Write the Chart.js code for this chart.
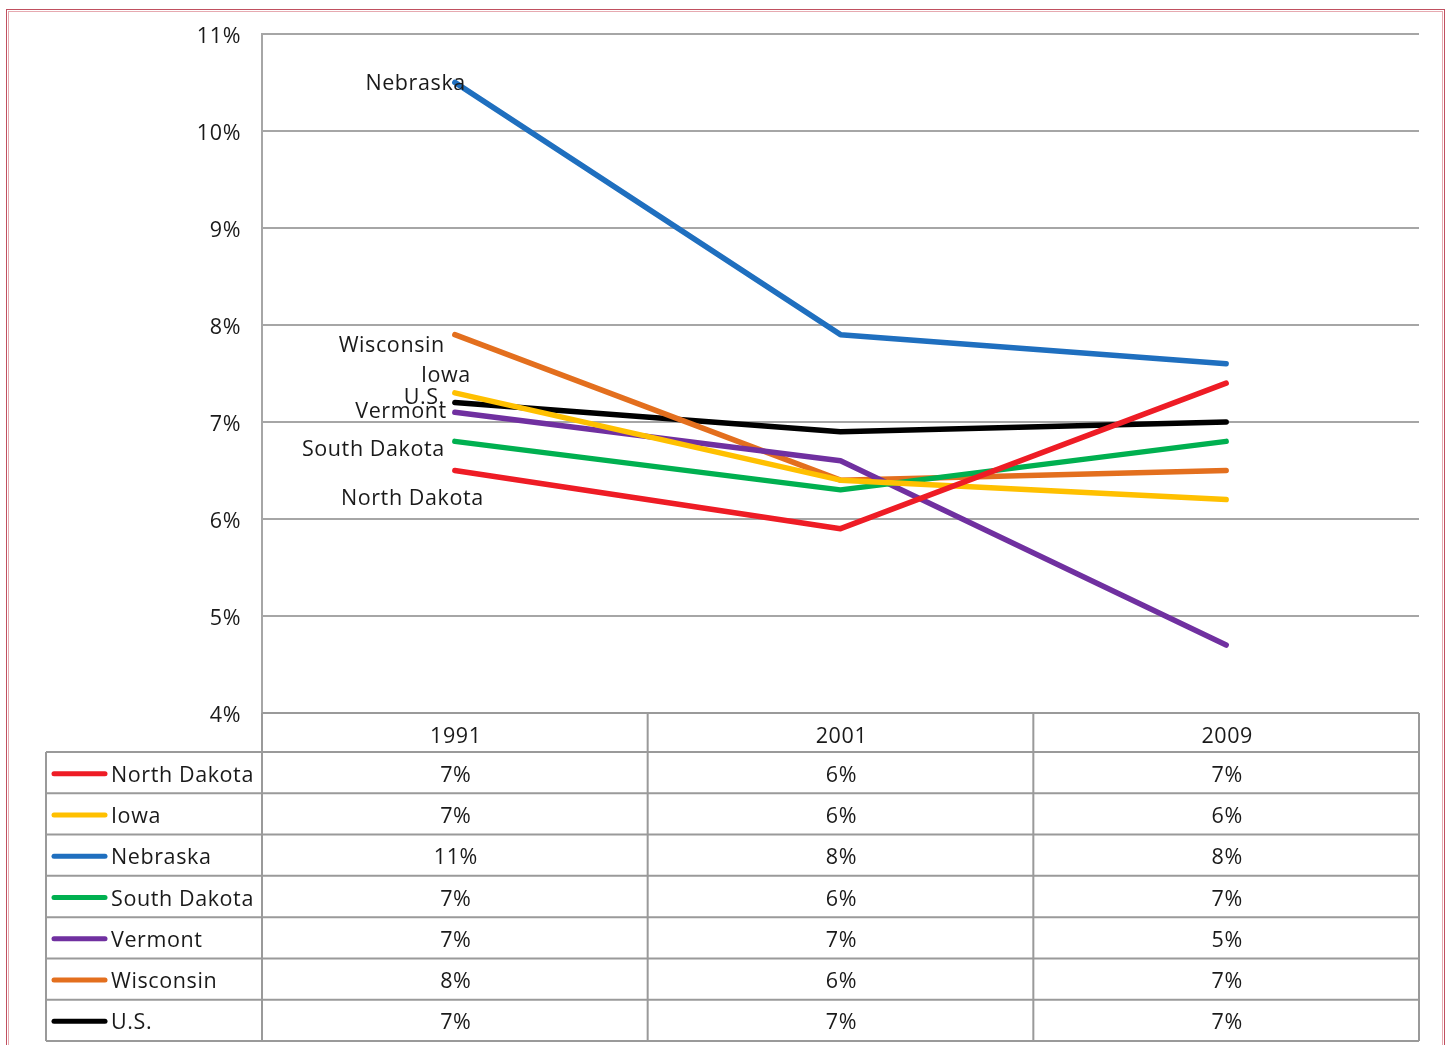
<!DOCTYPE html>
<html>
<head>
<meta charset="utf-8">
<script src="https://cdn.jsdelivr.net/npm/chart.js@4/dist/chart.umd.min.js"></script>
<style>
html,body{margin:0;padding:0;background:#fff;}
#wrap{width:1448px;height:1045px;position:relative;}
canvas{display:block;}
</style>
</head>
<body>
<div id="wrap"><canvas id="c" width="1448" height="1045"></canvas></div>
<script>
// ---- data ----
const years = ['1991', '2001', '2009'];
const seriesNames = ['North Dakota', 'Iowa', 'Nebraska', 'South Dakota', 'Vermont', 'Wisconsin', 'U.S.'];
const northDakota = [6.5, 5.9, 7.4];
const iowa = [7.3, 6.4, 6.2];
const nebraska = [10.5, 7.9, 7.6];
const southDakota = [6.8, 6.3, 6.8];
const vermont = [7.1, 6.6, 4.7];
const wisconsin = [7.9, 6.4, 6.5];
const us = [7.2, 6.9, 7.0];
const yTicks = [4, 5, 6, 7, 8, 9, 10, 11];

// ---- styles ----
const colors = ['#ee1c25', '#ffc000', '#1f6fbf', '#00b050', '#7030a0', '#e36f1e', '#000000'];
// label offsets relative to the first point (right edge of text, vertical centre)
const labelOffsets = [[29, 28], [16, -17], [11, 1], [-10, 9], [-8, 0], [-10, 11], [-10, -5]];
const FONT = '"Open Sans", "Liberation Sans", sans-serif';
const FSIZE = 21.5;
const SPACING = '0.6px';
const allSeries = [northDakota, iowa, nebraska, southDakota, vermont, wisconsin, us];

const datasets = seriesNames.map((n, i) => ({
  label: n,
  data: allSeries[i],
  borderColor: colors[i],
  backgroundColor: colors[i],
  borderWidth: 5.5,
  borderCapStyle: 'round',
  borderJoinStyle: 'round',
  pointRadius: 0,
  tension: 0,
  fill: false
}));

const spacing = {
  id: 'spacing',
  beforeDraw(chart) { chart.ctx.letterSpacing = SPACING; }
};

const extras = {
  id: 'extras',
  afterDatasetsDraw(chart) {
    const ctx = chart.ctx;
    const ca = chart.chartArea;
    const xs = chart.scales.x;
    ctx.save();
    ctx.letterSpacing = SPACING;
    ctx.font = FSIZE + 'px ' + FONT;
    ctx.fillStyle = '#1a1a1a';
    ctx.textAlign = 'right';
    ctx.textBaseline = 'middle';
    chart.data.datasets.forEach((ds, i) => {
      const pt = chart.getDatasetMeta(i).data[0];
      ctx.fillText(ds.label, pt.x + labelOffsets[i][0], pt.y + labelOffsets[i][1]);
    });
    // data table
    const headTop = ca.bottom, headBot = ca.bottom + 39;
    const tableBot = 1041;
    const nRows = seriesNames.length;
    const rowH = (tableBot - headBot) / nRows;
    const legLeft = 46;
    const colEdges = [ca.left];
    const bandW = (ca.right - ca.left) / years.length;
    for (let k = 1; k <= years.length; k++) colEdges.push(ca.left + bandW * k);
    ctx.strokeStyle = '#9a9a9a';
    ctx.lineWidth = 2;
    ctx.beginPath();
    ctx.moveTo(ca.left, headTop); ctx.lineTo(ca.right, headTop);
    for (let r = 0; r <= nRows; r++) {
      const y = headBot + r * rowH;
      ctx.moveTo(legLeft, y); ctx.lineTo(ca.right, y);
    }
    colEdges.forEach(x => { ctx.moveTo(x, headTop); ctx.lineTo(x, tableBot); });
    ctx.moveTo(legLeft, headBot); ctx.lineTo(legLeft, tableBot);
    ctx.stroke();
    ctx.fillStyle = '#1a1a1a';
    ctx.textAlign = 'center';
    years.forEach((y, k) => {
      ctx.fillText(y, xs.getPixelForValue(k) + 1, (headTop + headBot) / 2 + 4);
    });
    chart.data.datasets.forEach((ds, i) => {
      const cy = headBot + i * rowH + rowH / 2 + 1;
      ctx.strokeStyle = ds.borderColor;
      ctx.lineWidth = 5;
      ctx.lineCap = 'round';
      ctx.beginPath();
      ctx.moveTo(54, cy); ctx.lineTo(105, cy);
      ctx.stroke();
      ctx.fillStyle = '#1a1a1a';
      ctx.textAlign = 'left';
      ctx.fillText(ds.label, 111, cy + 2);
      ctx.textAlign = 'center';
      ds.data.forEach((v, k) => {
        ctx.fillText(Math.round(v) + '%', xs.getPixelForValue(k) + 1, cy + 2);
      });
    });
    ctx.lineCap = 'butt';
    ctx.strokeStyle = '#c05060';
    ctx.lineWidth = 1;
    ctx.strokeRect(6.5, 9.5, 1438, 1060);
    ctx.strokeStyle = '#e6a9b0';
    ctx.strokeRect(8.5, 11.5, 1434, 1060);
    ctx.restore();
  }
};

new Chart(document.getElementById('c'), {
  type: 'line',
  data: { labels: years, datasets },
  options: {
    responsive: false,
    animation: false,
    devicePixelRatio: 1,
    layout: { padding: { left: 0, right: 29, top: 33, bottom: 332 } },
    plugins: { legend: { display: false }, tooltip: { enabled: false } },
    scales: {
      x: {
        type: 'category',
        offset: true,
        grid: { display: false, offset: true },
        border: { display: false },
        ticks: { display: false },
        afterFit(s) { s.height = 0; }
      },
      y: {
        min: 4, max: 11,
        afterBuildTicks(s) { s.ticks = yTicks.map(v => ({ value: v })); },
        afterFit(s) { s.width = 262; },
        grid: { color: '#a6a6a6', lineWidth: 2, drawTicks: false, tickLength: 0 },
        border: { display: true, color: '#a6a6a6', width: 2 },
        ticks: {
          padding: 21,
          labelOffset: 3,
          color: '#1a1a1a',
          font: { family: FONT, size: FSIZE },
          callback: v => v + '%'
        }
      }
    }
  },
  plugins: [spacing, extras]
});
</script>
</body>
</html>
